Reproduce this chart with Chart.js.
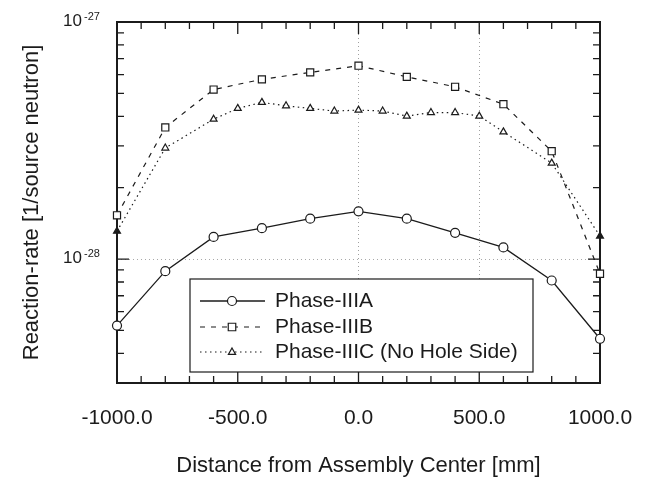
<!DOCTYPE html>
<html>
<head>
<meta charset="utf-8">
<script src="https://cdn.jsdelivr.net/npm/chart.js@4.4.1/dist/chart.umd.min.js"></script>
<style>
  html, body { margin: 0; padding: 0; background: #fff; }
  #wrap { width: 648px; height: 481px; }
</style>
</head>
<body>
<div id="wrap"><canvas id="chart"></canvas></div>
<script>
// positions along the assembly [mm]
const xAB = [-1000, -800, -600, -400, -200, 0, 200, 400, 600, 800, 1000];
const xC = [-1000, -800, -600, -500, -400, -300, -200, -100, 0, 100, 200, 300, 400, 500, 600, 800, 1000];

// reaction rates [1/source neutron]
const phaseA = [5.24e-29, 8.89e-29, 1.24e-28, 1.35e-28, 1.48e-28, 1.59e-28, 1.48e-28, 1.29e-28, 1.12e-28, 8.12e-29, 4.61e-29];
const phaseB = [1.53e-28, 3.59e-28, 5.19e-28, 5.73e-28, 6.13e-28, 6.54e-28, 5.87e-28, 5.33e-28, 4.50e-28, 2.85e-28, 8.67e-29];
const phaseC = [1.31e-28, 2.94e-28, 3.89e-28, 4.32e-28, 4.58e-28, 4.43e-28, 4.32e-28, 4.21e-28, 4.25e-28, 4.21e-28, 4.01e-28, 4.15e-28, 4.15e-28, 4.01e-28, 3.44e-28, 2.54e-28, 1.25e-28];

const seriesLabels = ['Phase-IIIA', 'Phase-IIIB', 'Phase-IIIC (No Hole Side)'];

// y ticks: 3..9 x 10^-29, 1..9 x 10^-28, 10^-27
const yTicks = [3e-29, 4e-29, 5e-29, 6e-29, 7e-29, 8e-29, 9e-29,
  1e-28, 2e-28, 3e-28, 4e-28, 5e-28, 6e-28, 7e-28, 8e-28, 9e-28, 1e-27];
const yMajor = [{ value: 1e-27, exp: '-27' }, { value: 1e-28, exp: '-28' }];

const ink = '#1b1b1b';
const fontFamily = '"Liberation Sans", Arial, sans-serif';

const toPoints = (xs, ys) => xs.map((x, i) => ({ x: x, y: ys[i] }));

// frame with inward ticks on all four sides
const framePlugin = {
  id: 'frame',
  beforeDatasetsDraw(chart) {
    const { ctx, chartArea: a, scales } = chart;
    ctx.save();
    ctx.strokeStyle = ink;
    ctx.lineWidth = 1.3;
    scales.x.ticks.forEach(t => {
      const px = scales.x.getPixelForValue(t.value);
      const len = t.value % 500 === 0 ? 12 : 7;
      ctx.beginPath();
      ctx.moveTo(px, a.bottom); ctx.lineTo(px, a.bottom - len);
      ctx.moveTo(px, a.top); ctx.lineTo(px, a.top + len);
      ctx.stroke();
    });
    scales.y.ticks.forEach(t => {
      const py = scales.y.getPixelForValue(t.value);
      const len = t.value === 1e-28 ? 12 : 7;
      ctx.beginPath();
      ctx.moveTo(a.left, py); ctx.lineTo(a.left + len, py);
      ctx.moveTo(a.right, py); ctx.lineTo(a.right - len, py);
      ctx.stroke();
    });
    ctx.lineWidth = 2;
    ctx.strokeRect(a.left, a.top, a.right - a.left, a.bottom - a.top);

    // decade labels 10^-27, 10^-28
    ctx.fillStyle = ink;
    ctx.textBaseline = 'alphabetic';
    yMajor.forEach(m => {
      const py = scales.y.getPixelForValue(m.value);
      ctx.font = '17px ' + fontFamily;
      ctx.textAlign = 'left';
      ctx.fillText('10', 63, py + 4);
      ctx.font = '11px ' + fontFamily;
      ctx.fillText(m.exp, 84, py - 2);
    });
    ctx.restore();
  }
};

// boxed legend inside the plot
const legendPlugin = {
  id: 'boxLegend',
  afterDatasetsDraw(chart) {
    const { ctx } = chart;
    const box = { x: 190, y: 279, w: 343, h: 93 };
    const rows = [301, 327, 352];
    ctx.save();
    ctx.fillStyle = '#fff';
    ctx.fillRect(box.x, box.y, box.w, box.h);
    ctx.strokeStyle = ink;
    ctx.lineWidth = 1.2;
    ctx.strokeRect(box.x, box.y, box.w, box.h);
    chart.data.datasets.forEach((ds, i) => {
      const y = rows[i];
      ctx.strokeStyle = ink;
      ctx.lineWidth = ds.borderWidth;
      ctx.setLineDash(ds.borderDash || []);
      ctx.beginPath();
      ctx.moveTo(200, y); ctx.lineTo(265, y);
      ctx.stroke();
      ctx.setLineDash([]);
      ctx.lineWidth = 1.2;
      ctx.fillStyle = '#fff';
      ctx.beginPath();
      const r = ds.pointRadius;
      if (ds.pointStyle === 'circle') {
        ctx.arc(232, y, r, 0, Math.PI * 2);
      } else if (ds.pointStyle === 'rect') {
        const s = r * 0.75;
        ctx.rect(232 - s, y - s, 2 * s, 2 * s);
      } else {
        ctx.moveTo(232, y - r); ctx.lineTo(232 + r * 0.9, y + r * 0.6); ctx.lineTo(232 - r * 0.9, y + r * 0.6); ctx.closePath();
      }
      ctx.fill();
      ctx.stroke();
      ctx.fillStyle = ink;
      ctx.font = '21px ' + fontFamily;
      ctx.textAlign = 'left';
      ctx.textBaseline = 'middle';
      ctx.fillText(ds.label, 275, y);
    });
    ctx.restore();
  }
};

new Chart(document.getElementById('chart'), {
  type: 'line',
  data: {
    datasets: [
      {
        label: seriesLabels[0],
        data: toPoints(xAB, phaseA),
        borderColor: ink,
        borderWidth: 1.3,
        pointStyle: 'circle',
        pointRadius: 4.5,
        pointBackgroundColor: '#fff',
        pointBorderColor: ink,
        pointBorderWidth: 1.2,
        clip: false
      },
      {
        label: seriesLabels[1],
        data: toPoints(xAB, phaseB),
        borderColor: ink,
        borderWidth: 1.2,
        borderDash: [5, 6],
        pointStyle: 'rect',
        pointRadius: 5,
        pointBackgroundColor: '#fff',
        pointBorderColor: ink,
        pointBorderWidth: 1.2,
        clip: false
      },
      {
        label: seriesLabels[2],
        data: toPoints(xC, phaseC),
        borderColor: ink,
        borderWidth: 1.2,
        borderDash: [1.5, 3.5],
        pointStyle: 'triangle',
        pointRadius: 4,
        pointBackgroundColor: c => (c.dataIndex === 0 || c.dataIndex === xC.length - 1) ? ink : '#fff',
        pointBorderColor: ink,
        pointBorderWidth: 1.2,
        clip: false
      }
    ]
  },
  options: {
    responsive: true,
    maintainAspectRatio: false,
    animation: false,
    layout: { padding: { top: 22, right: 0, left: 0, bottom: 0 } },
    plugins: {
      legend: { display: false },
      tooltip: { enabled: false }
    },
    scales: {
      x: {
        type: 'linear',
        min: -1000,
        max: 1000,
        afterFit: s => { s.height = 98; s.paddingLeft = 0; s.paddingRight = 48; },
        ticks: {
          stepSize: 100,
          autoSkip: false,
          maxRotation: 0,
          padding: 23,
          color: ink,
          font: { family: fontFamily, size: 21 },
          callback: v => (v % 500 === 0 ? v.toFixed(1) : '')
        },
        grid: {
          drawTicks: false,
          lineWidth: 1,
          color: c => (c.tick && (c.tick.value === 0 || c.tick.value === 500)) ? '#a0a0a0' : 'rgba(0,0,0,0)'
        },
        border: { display: false, dash: [1, 3] },
        title: {
          display: true,
          text: 'Distance from Assembly Center [mm]',
          color: ink,
          font: { family: fontFamily, size: 22 },
          padding: { top: 0, bottom: 2 }
        }
      },
      y: {
        type: 'logarithmic',
        min: 3e-29,
        max: 1e-27,
        afterBuildTicks: s => { s.ticks = yTicks.map(v => ({ value: v })); },
        afterFit: s => { s.width = 117; },
        ticks: {
          autoSkip: false,
          callback: () => ''
        },
        grid: {
          drawTicks: false,
          lineWidth: 1,
          color: c => (c.tick && c.tick.value === 1e-28) ? '#a8a8a8' : 'rgba(0,0,0,0)'
        },
        border: { display: false, dash: [1, 3] },
        title: {
          display: true,
          text: 'Reaction-rate [1/source neutron]',
          color: ink,
          font: { family: fontFamily, size: 22 },
          padding: { top: 19, bottom: 0 }
        }
      }
    }
  },
  plugins: [framePlugin, legendPlugin]
});
</script>
</body>
</html>
